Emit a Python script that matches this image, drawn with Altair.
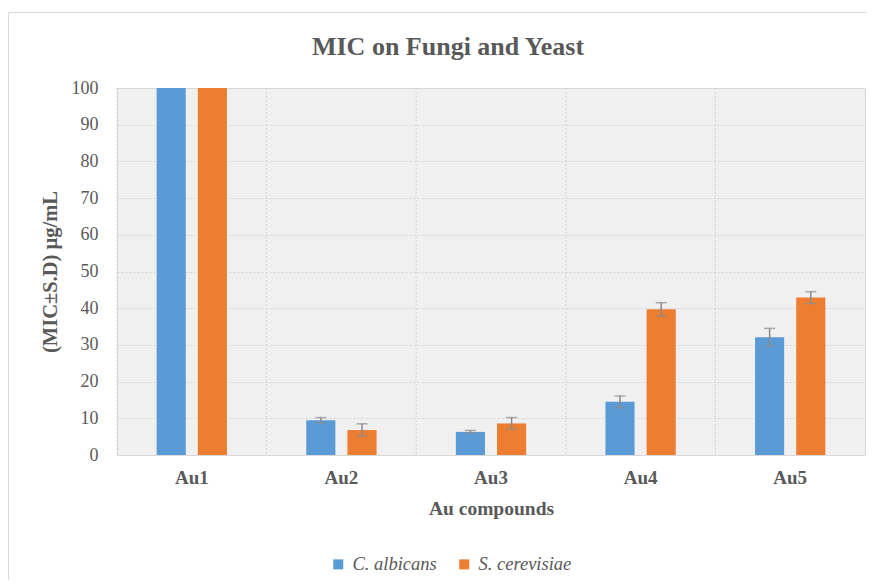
import altair as alt
import pandas as pd

categories = ["Au1", "Au2", "Au3", "Au4", "Au5"]
series_names = ["C. albicans", "S. cerevisiae"]
c_albicans = [100, 9.5, 6.3, 14.5, 32.1]
c_albicans_sd = [0, 0.7, 0.4, 1.6, 2.4]
s_cerevisiae = [100, 6.8, 8.6, 39.7, 42.9]
s_cerevisiae_sd = [0, 1.7, 1.6, 1.8, 1.6]
y_ticks = [0, 10, 20, 30, 40, 50, 60, 70, 80, 90, 100]
chart_title = ["MIC on Fungi and Yeast"]

rows = []
for i, c in enumerate(categories):
    for s, vals, sds in [(series_names[0], c_albicans, c_albicans_sd),
                         (series_names[1], s_cerevisiae, s_cerevisiae_sd)]:
        rows.append({"cat": c, "series": s, "value": vals[i], "sd": sds[i],
                     "lo": vals[i] - sds[i], "hi": vals[i] + sds[i]})
df = pd.DataFrame(rows)
err_df = df[df["sd"] > 0]
grid_df = pd.DataFrame({"cat": categories})
title_df = pd.DataFrame({"t": chart_title})

W, H = 748, 367
TXT = "#595959"
FONT = "Liberation Serif"

xscale = alt.Scale(domain=categories, paddingInner=0, paddingOuter=0)
xoff = alt.XOffset("series:N", scale=alt.Scale(domain=series_names, paddingInner=0.293, paddingOuter=0.963))
yscale = alt.Scale(domain=[0, 100], nice=False)

xaxis = alt.Axis(labelAngle=0, ticks=False, labelPadding=13, labelFontWeight="bold",
                 labelFontSize=19, titleFontSize=19.5, titleFontWeight="bold",
                 titleY=59, titleBaseline="alphabetic",
                 domainColor="#d9d9d9", grid=False)
yaxis = alt.Axis(values=y_ticks, ticks=False, labelPadding=19,
                 labelFontSize=18, titleFontSize=20.5, titleFontWeight="bold",
                 titleX=-67, titleY=H / 2, titleAngle=270, titleBaseline="middle",
                 titleAlign="center", labelOverlap=False,
                 grid=True, gridColor="#d4d4d4", gridDash=[2, 2], domain=False)

X = lambda f, **kw: alt.X(f, scale=xscale, title="Au compounds", axis=xaxis, **kw)
Y = lambda f: alt.Y(f, scale=yscale, title="(MIC±S.D) µg/mL", axis=yaxis)

frame = alt.Chart(title_df).mark_rect(fillOpacity=0, stroke="#d9d9d9", strokeWidth=1).encode(
    x=alt.value(-108.5), x2=alt.value(W + 20), y=alt.value(-75.5), y2=alt.value(H + 200)
)

title_mark = alt.Chart(title_df).mark_text(
    font=FONT, fontSize=26, fontWeight="bold", color=TXT, align="center", baseline="alphabetic"
).encode(x=alt.value(331), y=alt.value(-33), text="t:N")

vgrid = alt.Chart(grid_df).mark_rule(color="#d4d4d4", strokeDash=[2, 2], strokeWidth=1).encode(
    x=X("cat:N", bandPosition=0)
)

bars = alt.Chart(df).mark_bar().encode(
    x=X("cat:N"),
    xOffset=xoff,
    y=Y("value:Q"),
    color=alt.Color("series:N", scale=alt.Scale(domain=series_names, range=["#5B9BD5", "#ED7D31"]),
                    legend=alt.Legend(title=None, orient="none", direction="horizontal",
                                      legendX=212, legendY=467, symbolType="square", symbolSize=100,
                                      symbolStrokeWidth=0, labelFontStyle="italic", labelFontSize=18.5,
                                      labelColor=TXT, labelFont=FONT, columnPadding=18,
                                      labelOffset=5, padding=0)),
)

err_rule = alt.Chart(err_df).mark_rule(color="#8a8a8a", strokeWidth=1.5).encode(
    x=X("cat:N"), xOffset=xoff, y=Y("lo:Q"), y2="hi:Q"
)
cap_hi = alt.Chart(err_df).mark_tick(color="#8a8a8a", thickness=1.5, size=11).encode(
    x=X("cat:N"), xOffset=xoff, y=Y("hi:Q")
)
cap_lo = alt.Chart(err_df).mark_tick(color="#8a8a8a", thickness=1.5, size=11).encode(
    x=X("cat:N"), xOffset=xoff, y=Y("lo:Q")
)

chart = alt.layer(frame, title_mark, vgrid, bars, err_rule, cap_hi, cap_lo).properties(
    width=W, height=H,
    autosize=alt.AutoSizeParams(type="none"),
    padding={"left": 109, "top": 80, "right": 1, "bottom": 125},
).configure(font=FONT).configure_view(
    fill="#f0f0f0", stroke="#d9d9d9", strokeWidth=1
).configure_axis(
    labelColor=TXT, titleColor=TXT, labelFont=FONT, titleFont=FONT
)

chart.save("out.html", embed_options={"renderer": "svg", "actions": False})
